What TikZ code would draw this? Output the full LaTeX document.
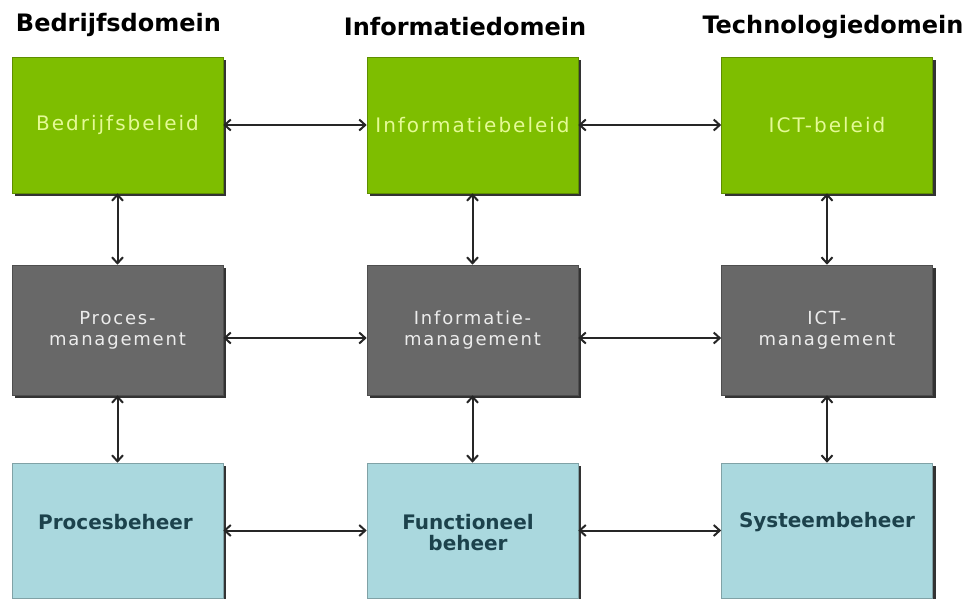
\documentclass[tikz,border=0pt]{standalone}
\usepackage{fontspec}
\setmainfont{DejaVu Sans}
\newfontfamily\boxfont[LetterSpace=10]{DejaVu Sans}
\usetikzlibrary{arrows.meta,shadows}
\definecolor{bgreen}{RGB}{126,190,0}
\definecolor{gtext}{RGB}{228,250,150}
\definecolor{bgray}{RGB}{104,104,104}
\definecolor{graytext}{RGB}{236,236,236}
\definecolor{lblue}{RGB}{170,216,222}
\definecolor{btextc}{RGB}{28,66,76}
\begin{document}
\begin{tikzpicture}[x=1pt,y=-1pt,
  boxbase/.style={minimum width=211pt, inner sep=0pt, line width=0.6pt,
    drop shadow={shadow xshift=3pt,shadow yshift=-3pt,fill=black!80,opacity=1}},
  greenbox/.style={boxbase, minimum height=136pt, fill=bgreen, draw=bgreen!75!black,
    text=gtext, font=\boxfont\fontsize{20}{22}\selectfont},
  graybox/.style={boxbase, minimum height=130pt, fill=bgray, draw=bgray!75!black,
    text=graytext, align=center, font=\boxfont\fontsize{18}{21}\selectfont},
  bluebox/.style={boxbase, minimum height=135pt, fill=lblue, draw=lblue!75!black},
  btext/.style={text=btextc, font=\bfseries\fontsize{20}{21}\selectfont, align=center, inner sep=0pt},
  hdr/.style={font=\bfseries\fontsize{24}{26}\selectfont, inner sep=0pt},
  conn/.style={line width=2pt, draw=black!85,
    {Straight Barb[length=6pt,width=11pt]}-{Straight Barb[length=6pt,width=11pt]}}
]
\fill[white] (0,0) rectangle (969,598);
\useasboundingbox (0,0) rectangle (969,598);

% headers
\node[hdr] (h1) at (118.5,25) {Bedrijfsdomein};
\node[hdr] (h2) at (465,27) {Informatiedomein};
\node[hdr] (h3) at (833,27) {Technologiedomein};

% row 1
\node[greenbox] (g1) at (117.5,125) {Bedrijfsbeleid};
\node[greenbox] (g2) at (472.5,125) {Informatiebeleid};
\node[greenbox] (g3) at (827,125) {ICT-beleid};

% row 2
\node[graybox] (p1) at (117.5,330) {Proces-\\management};
\node[graybox] (p2) at (472.5,330) {Informatie-\\management};
\node[graybox] (p3) at (827,330) {ICT-\\management};

% row 3
\node[bluebox] (b1) at (117.5,530.5) {};
\node[bluebox] (b2) at (472.5,530.5) {};
\node[bluebox] (b3) at (827,530.5) {};
\node[btext] (t1) at (115.5,522) {Procesbeheer};
\node[btext] (t2) at (468,532.5) {Functioneel\\beheer};
\node[btext] (t3) at (827,522) {Systeembeheer};

% connectors
\draw[conn] (g1) -- (g2);
\draw[conn] (g2) -- (g3);
\draw[conn] ([yshift=-8pt]p1.east) -- ([yshift=-8pt]p2.west);
\draw[conn] ([yshift=-8pt]p2.east) -- ([yshift=-8pt]p3.west);
\draw[conn] (b1) -- (b2);
\draw[conn] (b2) -- (b3);
\draw[conn] (g1) -- (p1);
\draw[conn] (g2) -- (p2);
\draw[conn] (g3) -- (p3);
\draw[conn] (p1) -- (b1);
\draw[conn] (p2) -- (b2);
\draw[conn] (p3) -- (b3);
\end{tikzpicture}
\end{document}
